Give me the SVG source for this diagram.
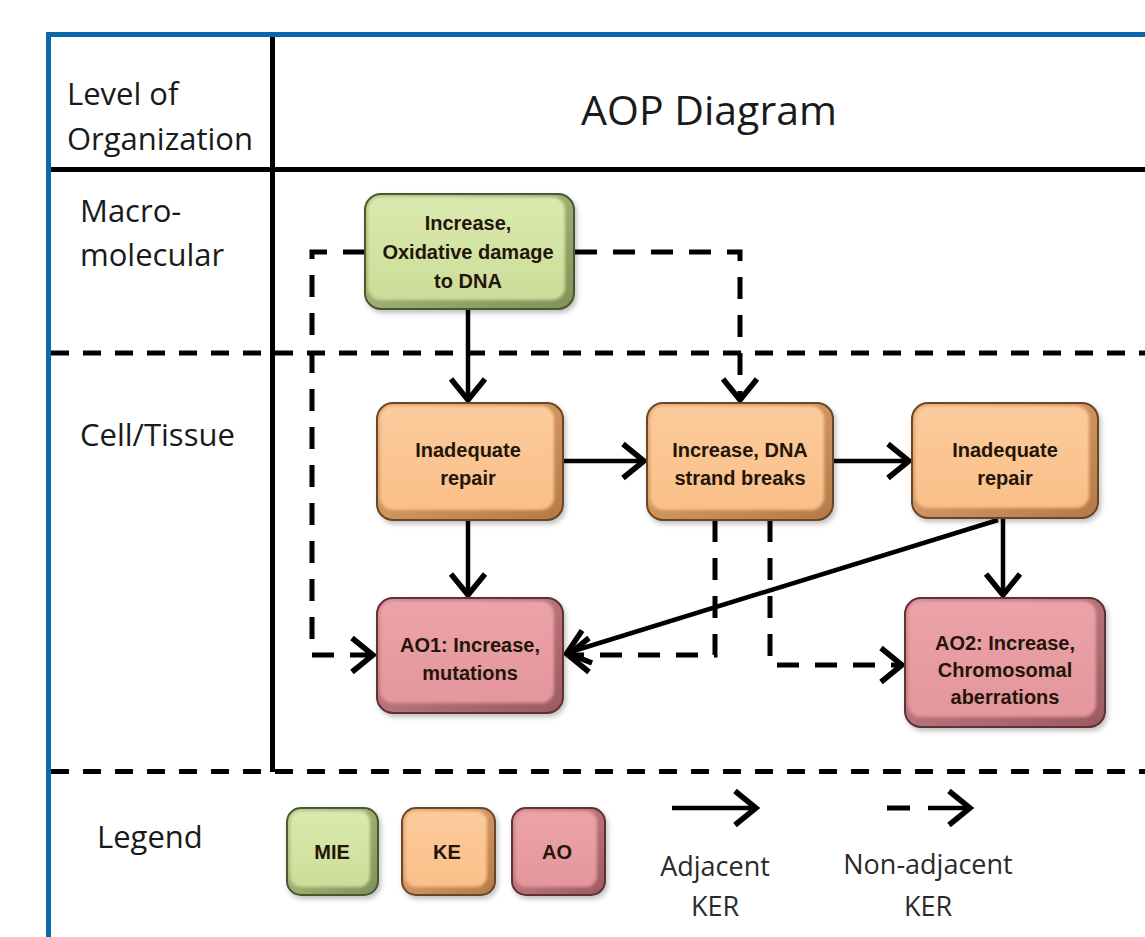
<svg xmlns="http://www.w3.org/2000/svg" width="1145" height="937" viewBox="0 0 1145 937">
  <defs>
    <style>
      .label { font-family: "Open Sans", "Liberation Sans", sans-serif; font-size: 31px; fill: #1a1a1a; }
      .title { font-family: "Open Sans", "Liberation Sans", sans-serif; font-size: 41px; fill: #1a1a1a; text-anchor: middle; }
      .legend-text { font-family: "Open Sans", "Liberation Sans", sans-serif; font-size: 27px; fill: #2a2a2a; text-anchor: middle; }
      .node-text { font-family: "Liberation Sans", Arial, sans-serif; font-weight: bold; font-size: 20px; fill: #24150a; text-anchor: middle; }
      .grid-solid { stroke: #000; stroke-width: 5; fill: none; }
      .grid-dash { stroke: #000; stroke-width: 5; fill: none; stroke-dasharray: 18 14; }
      .adj { stroke: #000; stroke-width: 4.5; fill: none; marker-end: url(#chev); }
      .nonadj { stroke: #000; stroke-width: 5; fill: none; stroke-dasharray: 22 16; }
      .nonadj-end { marker-end: url(#chev); }
      .mie-base { fill: url(#mieShade); stroke: #4a5632; stroke-width: 2; filter: url(#shadow); }
      .mie-face { fill: url(#mieFace); filter: url(#soft); }
      .ke-base { fill: url(#keShade); stroke: #6a4526; stroke-width: 2; filter: url(#shadow); }
      .ke-face { fill: url(#keFace); filter: url(#soft); }
      .ao-base { fill: url(#aoShade); stroke: #5b3034; stroke-width: 2; filter: url(#shadow); }
      .ao-face { fill: url(#aoFace); filter: url(#soft); }
    </style>
    <filter id="shadow" x="-10%" y="-10%" width="125%" height="130%">
      <feDropShadow dx="2" dy="3" stdDeviation="2.5" flood-color="#000" flood-opacity="0.25"/>
    </filter>
    <filter id="soft" x="-5%" y="-5%" width="110%" height="110%">
      <feGaussianBlur stdDeviation="1.6"/>
    </filter>
    <linearGradient id="mieShade" x1="0" y1="0" x2="1" y2="1">
      <stop offset="0" stop-color="#b9ca8a"/>
      <stop offset="1" stop-color="#7f9156"/>
    </linearGradient>
    <linearGradient id="mieFace" x1="0" y1="0" x2="0" y2="1">
      <stop offset="0" stop-color="#dbe9ae"/>
      <stop offset="1" stop-color="#cbdd98"/>
    </linearGradient>
    <linearGradient id="keShade" x1="0" y1="0" x2="1" y2="1">
      <stop offset="0" stop-color="#e8ad78"/>
      <stop offset="1" stop-color="#b37a48"/>
    </linearGradient>
    <linearGradient id="keFace" x1="0" y1="0" x2="0" y2="1">
      <stop offset="0" stop-color="#fdcb9c"/>
      <stop offset="1" stop-color="#f9bf88"/>
    </linearGradient>
    <linearGradient id="aoShade" x1="0" y1="0" x2="1" y2="1">
      <stop offset="0" stop-color="#d48a90"/>
      <stop offset="1" stop-color="#9a5a60"/>
    </linearGradient>
    <linearGradient id="aoFace" x1="0" y1="0" x2="0" y2="1">
      <stop offset="0" stop-color="#eba3a8"/>
      <stop offset="1" stop-color="#e3969b"/>
    </linearGradient>
    <marker id="chev" markerUnits="userSpaceOnUse" viewBox="-28 -22 32 44" refX="0" refY="0" markerWidth="32" markerHeight="44" orient="auto">
      <path d="M-21,-17 L0,0 L-21,17" fill="none" stroke="#000" stroke-width="5.5" stroke-dasharray="none" stroke-linejoin="miter"/>
    </marker>
  </defs>

  <rect width="1145" height="937" fill="#ffffff"/>

  <!-- frame and table rules -->
  <g id="frame">
    <rect x="48.5" y="34.5" width="1200" height="1000" fill="none" stroke="#0b69ab" stroke-width="5"/>
    <path class="grid-solid" d="M51,169.5 H1145"/>
    <path class="grid-solid" d="M272.5,37 V772"/>
    <path class="grid-dash" d="M51,353 H1145"/>
    <path class="grid-dash" d="M51,771.5 H1145"/>
  </g>

  <!-- row and column headings -->
  <g id="headings">
    <text class="label" x="67" y="105">Level of</text>
    <text class="label" x="67" y="150">Organization</text>
    <text class="title" x="709" y="125">AOP Diagram</text>
    <text class="label" x="80" y="222">Macro-</text>
    <text class="label" x="80" y="266">molecular</text>
    <text class="label" x="80" y="446">Cell/Tissue</text>
    <text class="label" x="97" y="848">Legend</text>
  </g>

  <!-- key event relationships -->
  <g id="connectors">
    <path class="adj" d="M468,310 V400"/>
    <path class="adj" d="M563,461 H644"/>
    <path class="adj" d="M833,461 H909"/>
    <path class="adj" d="M468,520 V595"/>
    <path class="adj" d="M1003,518 V595"/>
    <path class="adj" d="M998,520 L567,653"/>
    <path class="nonadj nonadj-end" d="M365,252 H312 V655 H373"/>
    <path class="nonadj nonadj-end" d="M575,252 H740 V400"/>
    <path class="nonadj nonadj-end" d="M715,520 V655 H568"/>
    <path class="nonadj nonadj-end" d="M770,520 V665 H902"/>
  </g>

  <g id="node-mie">
    <rect class="mie-base" x="365" y="194" width="209" height="115" rx="16"/>
    <rect class="mie-face" x="368" y="197" width="197" height="103" rx="13"/>
    <text class="node-text"><tspan x="468" y="230">Increase,</tspan><tspan x="468" y="259">Oxidative damage</tspan><tspan x="468" y="288">to DNA</tspan></text>
  </g>

  <g id="node-ke1">
    <rect class="ke-base" x="377" y="403" width="186" height="117" rx="16"/>
    <rect class="ke-face" x="380" y="406" width="174" height="104" rx="13"/>
    <text class="node-text"><tspan x="468" y="457">Inadequate</tspan><tspan x="468" y="485">repair</tspan></text>
  </g>

  <g id="node-ke2">
    <rect class="ke-base" x="647" y="403" width="186" height="117" rx="16"/>
    <rect class="ke-face" x="650" y="406" width="174" height="104" rx="13"/>
    <text class="node-text"><tspan x="740" y="457">Increase, DNA</tspan><tspan x="740" y="485">strand breaks</tspan></text>
  </g>

  <g id="node-ke3">
    <rect class="ke-base" x="912" y="403" width="186" height="115" rx="16"/>
    <rect class="ke-face" x="915" y="406" width="174" height="102" rx="13"/>
    <text class="node-text"><tspan x="1005" y="457">Inadequate</tspan><tspan x="1005" y="485">repair</tspan></text>
  </g>

  <g id="node-ao1">
    <rect class="ao-base" x="377" y="598" width="186" height="115" rx="16"/>
    <rect class="ao-face" x="380" y="601" width="174" height="102" rx="13"/>
    <text class="node-text"><tspan x="470" y="652">AO1: Increase,</tspan><tspan x="470" y="680">mutations</tspan></text>
  </g>

  <g id="node-ao2">
    <rect class="ao-base" x="905" y="598" width="200" height="129" rx="16"/>
    <rect class="ao-face" x="908" y="601" width="188" height="116" rx="13"/>
    <text class="node-text"><tspan x="1005" y="650">AO2: Increase,</tspan><tspan x="1005" y="677">Chromosomal</tspan><tspan x="1005" y="704">aberrations</tspan></text>
  </g>

  <!-- legend -->
  <g id="legend-mie">
    <rect class="mie-base" x="287" y="808" width="91" height="87" rx="14"/>
    <rect class="mie-face" x="290" y="811" width="80" height="76" rx="11"/>
    <text class="node-text" x="332" y="859">MIE</text>
  </g>
  <g id="legend-ke">
    <rect class="ke-base" x="402" y="808" width="93" height="87" rx="14"/>
    <rect class="ke-face" x="405" y="811" width="82" height="76" rx="11"/>
    <text class="node-text" x="447" y="859">KE</text>
  </g>
  <g id="legend-ao">
    <rect class="ao-base" x="512" y="808" width="93" height="87" rx="14"/>
    <rect class="ao-face" x="515" y="811" width="82" height="76" rx="11"/>
    <text class="node-text" x="557" y="859">AO</text>
  </g>
  <g id="legend-adjacent">
    <path class="adj" d="M672,808 H756"/>
    <text class="legend-text"><tspan x="715" y="876">Adjacent</tspan><tspan x="715" y="916">KER</tspan></text>
  </g>
  <g id="legend-nonadjacent">
    <path d="M887,808 H910" stroke="#000" stroke-width="5" fill="none"/>
    <path class="adj" d="M928,808 H970" stroke-width="5"/>
    <text class="legend-text"><tspan x="928" y="874">Non-adjacent</tspan><tspan x="928" y="916">KER</tspan></text>
  </g>
</svg>
